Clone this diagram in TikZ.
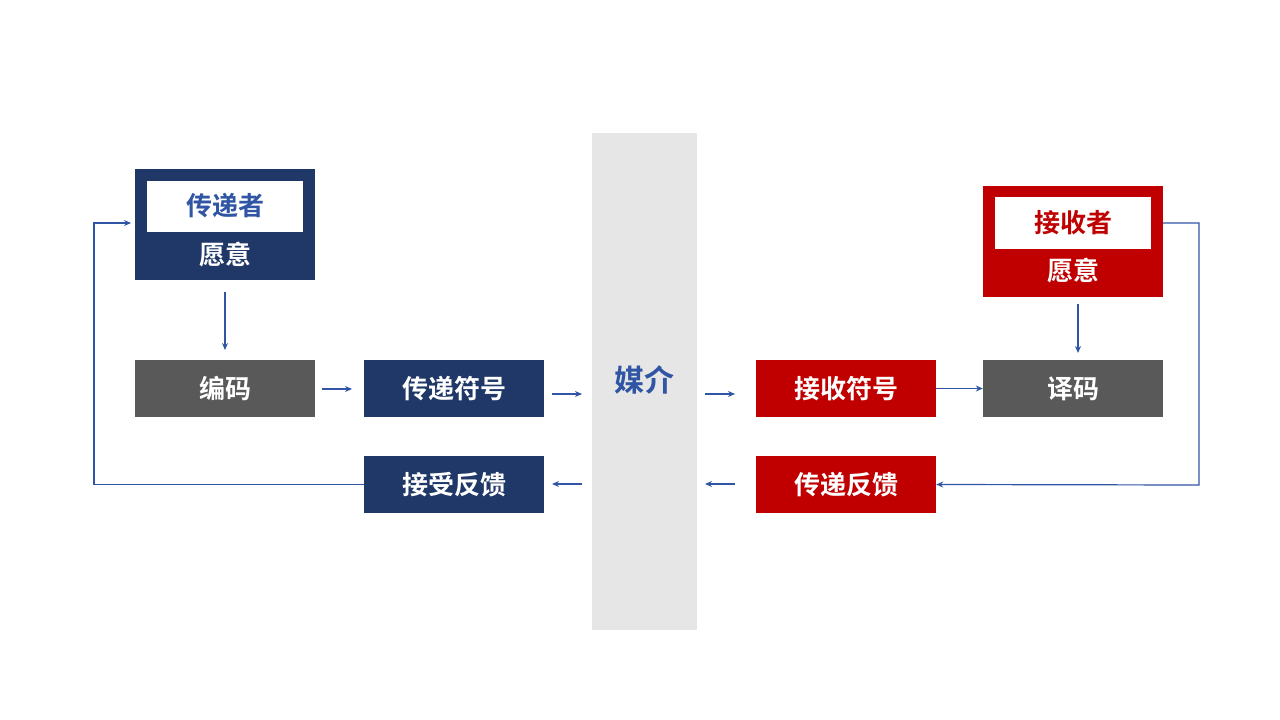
\documentclass[tikz,border=0pt]{standalone}
\usepackage{fontspec}
\setmainfont{Noto Sans CJK SC Bold}
\usetikzlibrary{arrows.meta}
\definecolor{navy}{HTML}{1F3868}
\definecolor{dgray}{HTML}{595959}
\definecolor{dred}{HTML}{C00000}
\definecolor{lblue}{HTML}{2F55A4}
\definecolor{band}{HTML}{E6E6E6}
\tikzset{
 box/.style={minimum width=180pt,minimum height=57pt,inner sep=0pt,text=white,font=\fontsize{26}{30}\selectfont},
 conn/.style={draw=lblue,line width=1.2pt,-{Stealth[length=7pt,width=6pt]}}
}
\begin{document}
\begin{tikzpicture}[x=1pt,y=-1pt]
\useasboundingbox (0,0) rectangle (1280,720);
% media band
\fill[band] (592,133) rectangle (697,630);
\node[text=lblue,font=\fontsize{30}{34}\selectfont] (med) at (644.5,380) {媒介};
% left top
\fill[navy] (135,169) rectangle (315,280);
\fill[white] (147,181) rectangle (303,232);
\node[text=lblue,font=\fontsize{26}{30}\selectfont] (snd) at (225,206) {传递者};
\node[text=white,font=\fontsize{26}{30}\selectfont] (sw) at (225,255) {愿意};
\coordinate (stop) at (225,224.5);
% right top
\fill[dred] (983,186) rectangle (1163,297);
\fill[white] (995,197) rectangle (1151,249);
\node[text=dred,font=\fontsize{26}{30}\selectfont] (rcv) at (1073,223) {接收者};
\node[text=white,font=\fontsize{26}{30}\selectfont] (rw) at (1073,271) {愿意};
% boxes
\node[box,fill=dgray] (enc) at (225,388.5) {编码};
\node[box,fill=navy] (ts) at (454,388.5) {传递符号};
\node[box,fill=navy] (fb) at (454,484.5) {接受反馈};
\node[box,fill=dred] (rs) at (846,388.5) {接收符号};
\node[box,fill=dgray] (dec) at (1073,388.5) {译码};
\node[box,fill=dred] (tf) at (846,484.5) {传递反馈};
% arrows
\coordinate (a1) at (225,292); \coordinate (a2) at (225,350);
\draw[conn] (a1) -- (a2);
\coordinate (b1) at (322,389); \coordinate (b2) at (352,389);
\draw[conn] (b1) -- (b2);
\coordinate (c1) at (552,394); \coordinate (c2) at (582,394);
\draw[conn] (c1) -- (c2);
\coordinate (d1) at (705,394); \coordinate (d2) at (735,394);
\draw[conn] (d1) -- (d2);
\draw[conn] (rs.east) -- (dec.west);
\coordinate (e1) at (1078,304); \coordinate (e2) at (1078,353);
\draw[conn] (e1) -- (e2);
\coordinate (rr) at (1163,223);
\draw[conn] (rr) -- (1199,223) -- (1199,485) -- (tf.east);
\coordinate (f1) at (735,484); \coordinate (f2) at (705,484);
\draw[conn] (f1) -- (f2);
\coordinate (g1) at (582,484); \coordinate (g2) at (552,484);
\draw[conn] (g1) -- (g2);
\coordinate (ll) at (131,223);
\draw[conn] (fb.west) -- (94,484.5) -- (94,223) -- (ll);
\end{tikzpicture}
\end{document}
